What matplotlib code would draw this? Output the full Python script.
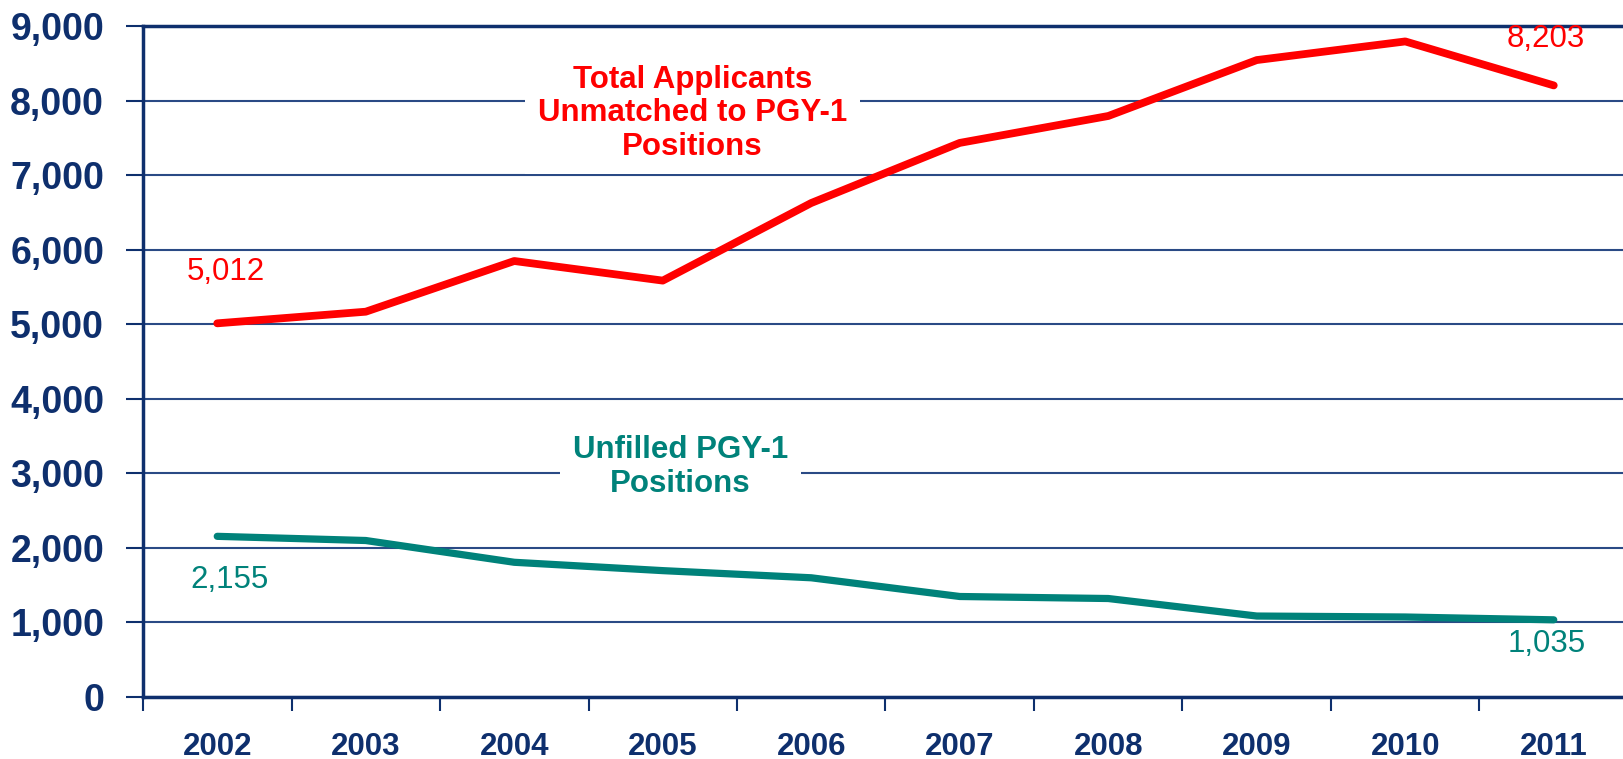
import matplotlib.pyplot as plt
import numpy as np

plt.rcParams['font.family'] = ['Liberation Sans', 'DejaVu Sans']

years = ['2002', '2003', '2004', '2005', '2006', '2007', '2008', '2009', '2010', '2011']
unmatched = [5012, 5168, 5848, 5585, 6626, 7432, 7793, 8543, 8793, 8203]
unfilled = [2155, 2099, 1807, 1695, 1599, 1348, 1321, 1086, 1073, 1035]
yticks = [0, 1000, 2000, 3000, 4000, 5000, 6000, 7000, 8000, 9000]

navy = '#0E2F6D'
red = '#FF0000'
teal = '#00827A'

fig = plt.figure(figsize=(16.23, 7.59), dpi=100)
ax = fig.add_axes([143 / 1623, 1 - 697 / 759, 1 - 143 / 1623, (697 - 26) / 759])

x = np.arange(len(years))
ax.plot(x, unmatched, color=red, lw=5.6, solid_capstyle='round', zorder=3)
ax.plot(x, unfilled, color=teal, lw=5.2, solid_capstyle='round', zorder=3)

ax.set_ylim(0, 9000)
ax.set_xlim(-0.5, (1623 - 143) / 148.5 - 0.5)

ax.set_yticks(yticks)
ax.set_yticklabels([f'{v:,}' for v in yticks], fontsize=27, fontweight='bold', color=navy)
ax.tick_params(axis='y', length=12, width=1.5, color=navy, pad=16)
ax.grid(axis='y', color='#2A4A85', lw=1.5, zorder=1)

# category boundaries as ticks, labels at centres
ax.set_xticks(np.arange(-0.5, len(years) - 0.5, 1))
ax.set_xticklabels([])
ax.set_xticks(x, minor=True)
ax.set_xticklabels(years, minor=True, fontsize=22.5, fontweight='bold', color=navy)
ax.tick_params(axis='x', which='major', length=10, width=1.5, color=navy)
ax.tick_params(axis='x', which='minor', length=0, pad=25)

ax.spines['right'].set_visible(False)
for s in ['top', 'left', 'bottom']:
    ax.spines[s].set_color(navy)
    ax.spines[s].set_linewidth(2.5)

# end-point labels
def lab(xi, yi, dx, dy, c):
    ax.annotate(f'{yi:,}', (xi, yi), xytext=(dx, dy), textcoords='offset pixels',
                ha='center', va='center', fontsize=22.5, color=c)

lab(0, unmatched[0], 9, 51, red)
lab(9, unmatched[-1], -8, 46, red)
lab(0, unfilled[0], 12, -44, teal)
lab(9, unfilled[-1], -7, -24, teal)

ax.text(3.2, 7830, 'Total Applicants\nUnmatched to PGY-1\nPositions', ha='center', va='center',
        fontsize=22.5, fontweight='bold', color=red, linespacing=1.15,
        bbox=dict(facecolor='white', edgecolor='none', pad=9), zorder=4)
ax.text(3.12, 3085, 'Unfilled PGY-1\nPositions', ha='center', va='center',
        fontsize=22.5, fontweight='bold', color=teal, linespacing=1.15,
        bbox=dict(facecolor='white', edgecolor='none', pad=9), zorder=4)

fig.savefig('out.png', dpi=100)
